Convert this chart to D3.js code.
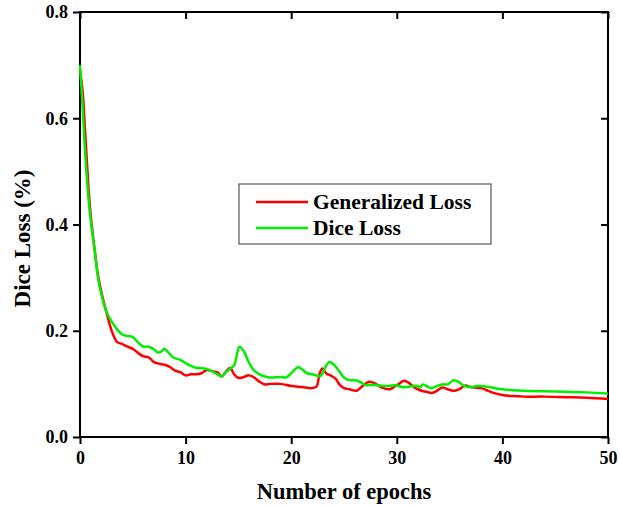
<!DOCTYPE html>
<html>
<head>
<meta charset="utf-8">
<script src="https://cdn.jsdelivr.net/npm/d3@7"></script>
<style>
  body { margin: 0; background: #fff; }
  text { font-family: "Liberation Serif", "Times New Roman", serif; font-weight: bold; }
</style>
</head>
<body>
<div id="chart"></div>
<script>
// values
var genEpochs = [0, 0.25, 0.5, 0.8, 1, 1.4, 1.7, 2, 2.5, 3, 3.5, 4, 4.5, 5, 5.5, 6, 6.5, 7, 7.5, 8, 8.5, 9, 9.5, 10, 10.5, 11, 11.5, 12, 12.5, 13, 13.4, 13.7, 14.2, 14.6, 15, 15.5, 16, 16.5, 17, 17.5, 18, 19, 20, 21, 22, 22.4, 22.7, 22.95, 23.3, 23.8, 24.2, 24.6, 25, 25.5, 26.2, 26.7, 27.4, 28, 28.6, 29.3, 29.8, 30.2, 30.7, 31.2, 31.7, 32.2, 32.8, 33.3, 33.8, 34.3, 34.8, 35.4, 35.9, 36.5, 37, 37.5, 38, 38.5, 39, 40, 41, 42, 44, 46, 48, 50];
var genLoss = [0.69, 0.65, 0.57, 0.47, 0.42, 0.35, 0.305, 0.275, 0.235, 0.2, 0.179, 0.175, 0.17, 0.166, 0.158, 0.152, 0.15, 0.141, 0.138, 0.136, 0.132, 0.125, 0.122, 0.116, 0.118, 0.118, 0.12, 0.126, 0.124, 0.122, 0.114, 0.12, 0.13, 0.118, 0.111, 0.113, 0.116, 0.112, 0.104, 0.099, 0.1, 0.1, 0.096, 0.094, 0.092, 0.095, 0.12, 0.129, 0.12, 0.115, 0.11, 0.098, 0.092, 0.09, 0.087, 0.095, 0.104, 0.1, 0.093, 0.09, 0.095, 0.1, 0.106, 0.101, 0.093, 0.088, 0.085, 0.083, 0.087, 0.093, 0.09, 0.087, 0.09, 0.097, 0.094, 0.093, 0.092, 0.088, 0.084, 0.079, 0.077, 0.076, 0.076, 0.075, 0.074, 0.0715];

var diceEpochs = [0, 0.25, 0.5, 0.8, 1, 1.4, 1.7, 2, 2.5, 3, 3.5, 4, 4.5, 5, 5.5, 6, 6.5, 7, 7.4, 7.7, 8, 8.4, 8.8, 9.5, 10, 10.5, 11, 11.5, 12, 12.5, 13, 13.4, 13.8, 14.2, 14.6, 15.1, 15.5, 16, 16.5, 17, 17.5, 18, 19, 19.5, 20, 20.6, 21, 21.5, 22, 22.5, 22.8, 23.2, 23.6, 24, 24.5, 25, 25.5, 26, 26.5, 27, 27.5, 28, 29, 29.5, 30, 30.5, 31, 31.5, 32, 32.2, 32.45, 32.8, 33.3, 33.8, 34.3, 34.8, 35.4, 35.9, 36.4, 37, 37.6, 38, 39, 40, 41, 42, 44, 46, 48, 50];
var diceLoss = [0.7, 0.62, 0.53, 0.45, 0.41, 0.35, 0.3, 0.27, 0.236, 0.217, 0.203, 0.193, 0.19, 0.188, 0.178, 0.17, 0.17, 0.165, 0.159, 0.161, 0.166, 0.158, 0.15, 0.145, 0.139, 0.134, 0.13, 0.13, 0.128, 0.124, 0.118, 0.114, 0.122, 0.128, 0.135, 0.17, 0.162, 0.14, 0.125, 0.118, 0.114, 0.112, 0.113, 0.112, 0.12, 0.131, 0.128, 0.12, 0.118, 0.115, 0.115, 0.13, 0.141, 0.137, 0.125, 0.112, 0.107, 0.107, 0.104, 0.098, 0.098, 0.098, 0.096, 0.097, 0.097, 0.094, 0.094, 0.096, 0.096, 0.093, 0.099, 0.096, 0.092, 0.096, 0.099, 0.099, 0.107, 0.103, 0.096, 0.094, 0.096, 0.096, 0.093, 0.09, 0.088, 0.087, 0.086, 0.085, 0.084, 0.0815];

var xTicks = [0, 10, 20, 30, 40, 50];
var yTicks = [0.0, 0.2, 0.4, 0.6, 0.8];
var seriesNames = ["Generalized Loss", "Dice Loss"];
var seriesColors = ["#ff0000", "#00ee00"];

var margin = {top: 12, right: 12, bottom: 71, left: 80},
  width = 620 - margin.left - margin.right,
  height = 508 - margin.top - margin.bottom;

var svg = d3.select("#chart")
  .append("svg")
    .attr("width", 620)
    .attr("height", 508)
  .append("g")
    .attr("transform", "translate(" + margin.left + "," + margin.top + ")");

var x = d3.scaleLinear().domain([0, 50]).range([0, width]);
var y = d3.scaleLinear().domain([0, 0.8]).range([height, 0]);

// bottom and left axes, ticks outward with labels
var xAxis = svg.append("g")
  .attr("transform", "translate(0," + height + ")")
  .call(d3.axisBottom(x).tickValues(xTicks).tickSize(7).tickPadding(7).tickFormat(d3.format("d")));
var yAxis = svg.append("g")
  .call(d3.axisLeft(y).tickValues(yTicks).tickSize(7).tickPadding(5).tickFormat(d3.format(".1f")));
// top and right axes, ticks inward, no labels
var xTop = svg.append("g")
  .call(d3.axisBottom(x).tickValues(xTicks).tickSize(7).tickFormat(""));
var yRight = svg.append("g")
  .attr("transform", "translate(" + width + ",0)")
  .call(d3.axisLeft(y).tickValues(yTicks).tickSize(7).tickFormat(""));

[xAxis, yAxis, xTop, yRight].forEach(function(a) {
  a.select(".domain").remove();
  a.selectAll(".tick line").attr("stroke", "#000").attr("stroke-width", 2);
  a.selectAll(".tick text").attr("fill", "#000").style("font-size", "18px")
    .style("font-family", "'Liberation Serif', serif").style("font-weight", "bold");
});

// frame
svg.append("rect")
  .attr("x", 0).attr("y", 0)
  .attr("width", width).attr("height", height)
  .attr("fill", "none")
  .attr("stroke", "#000")
  .attr("stroke-width", 2);

var line = d3.line()
  .x(function(d) { return x(d[0]); })
  .y(function(d) { return y(d[1]); })
  .curve(d3.curveCatmullRom.alpha(0.5));

var genData = genEpochs.map(function(e, i) { return [e, genLoss[i]]; });
var diceData = diceEpochs.map(function(e, i) { return [e, diceLoss[i]]; });

svg.append("path")
  .datum(genData)
  .attr("fill", "none")
  .attr("stroke", seriesColors[0])
  .attr("stroke-width", 2.5)
  .attr("d", line);

svg.append("path")
  .datum(diceData)
  .attr("fill", "none")
  .attr("stroke", seriesColors[1])
  .attr("stroke-width", 2.5)
  .attr("d", line);

// axis titles
svg.append("text")
  .attr("x", width / 2)
  .attr("y", height + 62)
  .attr("text-anchor", "middle")
  .style("font-size", "22.5px")
  .text("Number of epochs");

svg.append("text")
  .attr("transform", "translate(" + (-50) + "," + (height / 2 + 14) + ") rotate(-90)")
  .attr("text-anchor", "middle")
  .style("font-size", "23px")
  .text("Dice Loss (%)");

// legend
var legend = svg.append("g")
  .attr("transform", "translate(" + (239 - margin.left) + "," + (184 - margin.top) + ")");
legend.append("rect")
  .attr("width", 252).attr("height", 60)
  .attr("fill", "#fff")
  .attr("stroke", "#555")
  .attr("stroke-width", 1.2);
seriesNames.forEach(function(name, i) {
  var ly = 18 + i * 26;
  legend.append("line")
    .attr("x1", 17).attr("x2", 69)
    .attr("y1", ly).attr("y2", ly)
    .attr("stroke", seriesColors[i])
    .attr("stroke-width", 2.5);
  legend.append("text")
    .attr("x", 74).attr("y", ly + 7)
    .style("font-size", "21.5px")
    .text(name);
});
</script>
</body>
</html>
